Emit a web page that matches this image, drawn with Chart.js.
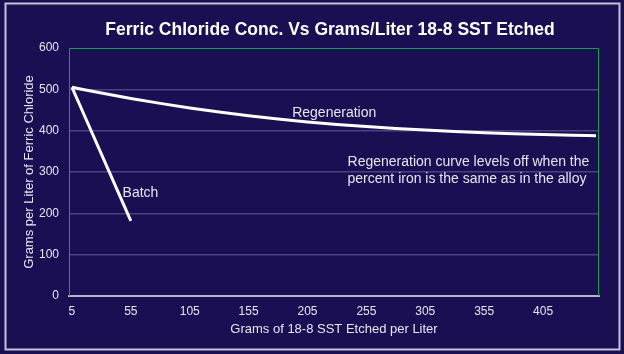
<!DOCTYPE html>
<html><head><meta charset="utf-8">
<script src="https://cdn.jsdelivr.net/npm/chart.js@4/dist/chart.umd.min.js"></script>
<style>html,body{margin:0;padding:0;background:#1a0f52;}#wrap{width:624px;height:354px;}</style>
</head><body><div id="wrap"><canvas id="c" width="624" height="354"></canvas></div>
<script>
const chartTitle = 'Ferric Chloride Conc. Vs Grams/Liter 18-8 SST Etched';
const xAxisTitle = 'Grams of 18-8 SST Etched per Liter';
const yAxisTitle = 'Grams per Liter of Ferric Chloride';
const regenX = [5,30,55,80,105,130,155,180,205,230,255,280,305,330,355,380,405,430,450];
const regenY = [505,491,478,466,455,445,436,428,421,415,410,405.5,401.5,398,395,392.5,390.5,389,388];
const batchX = [5,55];
const batchY = [505,182];
const xTicks = [5,55,105,155,205,255,305,355,405];
const yTicks = [0,100,200,300,400,500,600];
const notes = [
  {text:'Batch', x:48, y:249},
  {text:'Regeneration', x:192, y:443},
  {text:'Regeneration curve levels off when the', x:239, y:325},
  {text:'percent iron is the same as in the alloy', x:239, y:283}
];

const BG = '#1a0f52';
const FG = '#e6e6f0';
const GREEN = '#10a050';
const GRID = '#4a4380';
const AXIS = '#b4b4cc';
const FONT = '"Liberation Sans", Arial, sans-serif';

const deco = {
  id: 'deco',
  beforeDraw(chart) {
    const ctx = chart.ctx;
    ctx.save();
    ctx.fillStyle = BG;
    ctx.fillRect(0, 0, chart.width, chart.height);
    ctx.strokeStyle = '#c4c4d4';
    ctx.lineWidth = 2;
    ctx.strokeRect(5.5, 3.5, 614, 346);
    ctx.restore();
  },
  beforeDatasetsDraw(chart) {
    const {ctx, chartArea: a} = chart;
    ctx.save();
    ctx.strokeStyle = GREEN;
    ctx.lineWidth = 1;
    ctx.beginPath();
    ctx.moveTo(a.left + 0.5, a.bottom);
    ctx.lineTo(a.left + 0.5, a.top + 0.5);
    ctx.lineTo(a.right - 0.5, a.top + 0.5);
    ctx.lineTo(a.right - 0.5, a.bottom);
    ctx.stroke();
    ctx.restore();
  },
  afterDraw(chart) {
    const ctx = chart.ctx;
    const xs = chart.scales.x, ys = chart.scales.y;
    ctx.save();
    ctx.fillStyle = '#ffffff';
    ctx.font = 'bold 17.5px ' + FONT;
    ctx.textAlign = 'center';
    ctx.textBaseline = 'alphabetic';
    ctx.fillText(chartTitle, 330, 35);
    ctx.fillStyle = FG;
    ctx.font = '14px ' + FONT;
    ctx.textAlign = 'left';
    ctx.textBaseline = 'middle';
    notes.forEach(n => {
      ctx.fillText(n.text, xs.getPixelForValue(n.x), ys.getPixelForValue(n.y));
    });
    ctx.restore();
  }
};

new Chart(document.getElementById('c'), {
  type: 'line',
  data: {
    datasets: [
      {label: 'Regeneration', data: regenX.map((x, i) => ({x, y: regenY[i]})),
       borderColor: '#ffffff', borderWidth: 3, pointRadius: 0, cubicInterpolationMode: 'monotone', fill: false},
      {label: 'Batch', data: batchX.map((x, i) => ({x, y: batchY[i]})),
       borderColor: '#ffffff', borderWidth: 3, pointRadius: 0, fill: false}
    ]
  },
  options: {
    responsive: false,
    animation: false,
    devicePixelRatio: 1,
    layout: {padding: {top: 48, right: 25, left: 0, bottom: 0}},
    plugins: {legend: {display: false}, tooltip: {enabled: false}, title: {display: false}},
    scales: {
      x: {
        type: 'linear', min: 2.5, max: 452.5,
        afterBuildTicks: s => { s.ticks = xTicks.map(v => ({value: v})); },
        afterFit: s => { s.height = 58; },
        grid: {display: false, drawTicks: false},
        border: {display: true, color: AXIS, width: 2},
        ticks: {color: FG, font: {family: FONT, size: 12}, padding: 8, maxRotation: 0, autoSkip: false},
        title: {display: true, text: xAxisTitle, color: FG, font: {family: FONT, size: 13}, padding: {top: 0, bottom: 17}}
      },
      y: {
        type: 'linear', min: 0, max: 600,
        afterBuildTicks: s => { s.ticks = yTicks.map(v => ({value: v})); },
        afterFit: s => { s.width = 69; },
        grid: {drawTicks: false, color: ctx => (ctx.tick && (ctx.tick.value === 0 || ctx.tick.value === 600)) ? 'rgba(0,0,0,0)' : GRID, lineWidth: 1.5},
        border: {display: false},
        ticks: {color: FG, font: {family: FONT, size: 12}, padding: 10},
        title: {display: true, text: yAxisTitle, color: FG, font: {family: FONT, size: 13}, padding: {top: 22, bottom: 0}}
      }
    }
  },
  plugins: [deco]
});
</script>
</body></html>
